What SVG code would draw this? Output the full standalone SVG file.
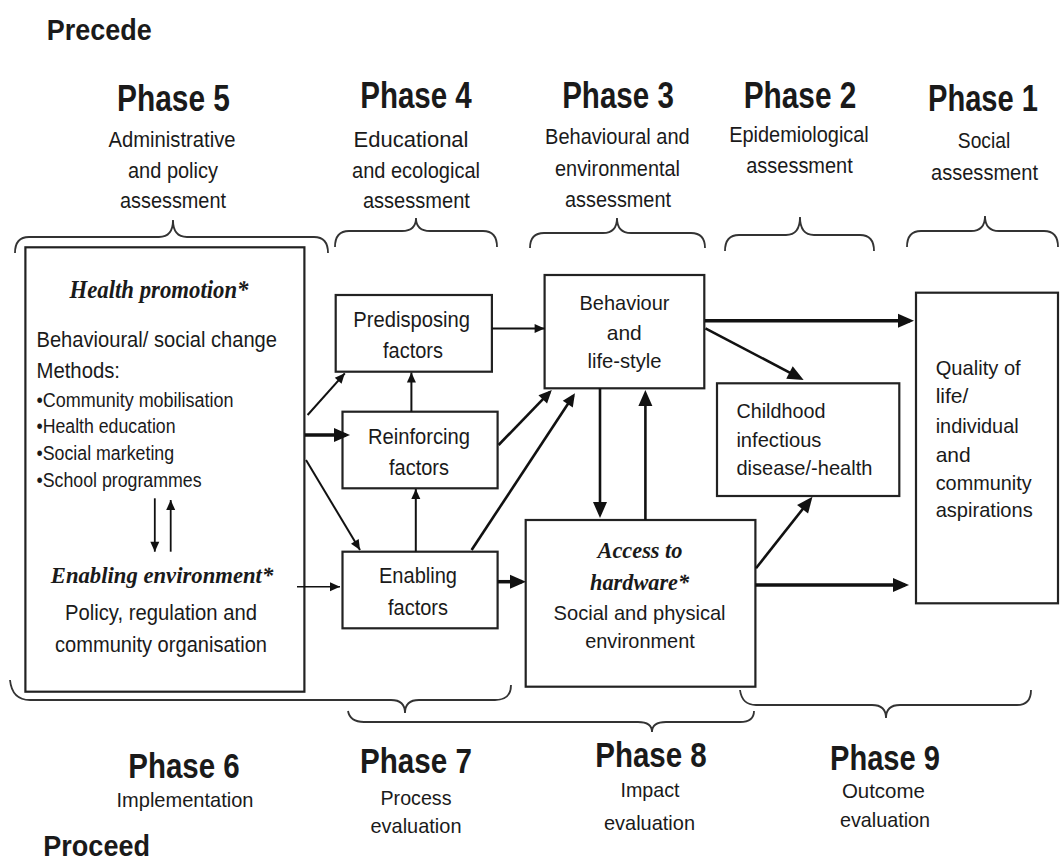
<svg xmlns="http://www.w3.org/2000/svg" width="1060" height="863" viewBox="0 0 1060 863">
<defs>
<style>
text{font-family:"Liberation Sans",Arial,sans-serif;fill:#1a1a1a}
.ph{font-size:36px;font-weight:bold;text-anchor:middle}
.phb{font-size:35px;font-weight:bold;text-anchor:middle}
.sub{font-size:22px;text-anchor:middle}
.pp{font-size:30px;font-weight:bold}
.t22{font-size:22px}
.t21{font-size:21px}
.t20{font-size:20px}
.c{text-anchor:middle}
.it{font-family:"Liberation Serif","Times New Roman",serif;font-weight:bold;font-style:italic}
.box{fill:#fff;stroke:#222;stroke-width:2.2}
.brace{fill:none;stroke:#333;stroke-width:1.8}
.a1{stroke:#111;stroke-width:2;fill:none;marker-end:url(#sm)}
.a2{stroke:#111;stroke-width:2.6;fill:none}
.a3{stroke:#111;stroke-width:3.5;fill:none;marker-end:url(#lg)}
</style>
<marker id="sm" markerUnits="userSpaceOnUse" markerWidth="11" markerHeight="9" refX="10" refY="4.5" orient="auto" overflow="visible"><path d="M0,0 L10,4.5 L0,9 z" fill="#111"/></marker>
<marker id="md" markerUnits="userSpaceOnUse" markerWidth="14" markerHeight="12" refX="10" refY="6" orient="auto" overflow="visible"><path d="M0,0 L13,6 L0,12 z" fill="#111"/></marker>
<marker id="lg" markerUnits="userSpaceOnUse" markerWidth="17" markerHeight="15" refX="12" refY="7" orient="auto" overflow="visible"><path d="M0,0 L16,7 L0,14 z" fill="#111"/></marker>
</defs>
<rect width="1060" height="863" fill="#fff"/>

<g id="headings">
<text class="pp" x="46.7" y="40" textLength="105" lengthAdjust="spacingAndGlyphs">Precede</text>
<text class="pp" x="43.3" y="856" textLength="106.7" lengthAdjust="spacingAndGlyphs">Proceed</text>
</g>

<g id="phase5">
<text class="ph" x="173.5" y="110.7" textLength="113" lengthAdjust="spacingAndGlyphs">Phase 5</text>
<text class="sub" x="172" y="146.7" textLength="127" lengthAdjust="spacingAndGlyphs">Administrative</text>
<text class="sub" x="173" y="177.5" textLength="90" lengthAdjust="spacingAndGlyphs">and policy</text>
<text class="sub" x="173" y="208.3" textLength="106" lengthAdjust="spacingAndGlyphs">assessment</text>
</g>
<g id="phase4">
<text class="ph" x="416" y="108.3" textLength="111.6" lengthAdjust="spacingAndGlyphs">Phase 4</text>
<text class="sub" x="411" y="147" textLength="115" lengthAdjust="spacingAndGlyphs">Educational</text>
<text class="sub" x="416" y="177.5" textLength="128" lengthAdjust="spacingAndGlyphs">and ecological</text>
<text class="sub" x="416.4" y="208" textLength="107" lengthAdjust="spacingAndGlyphs">assessment</text>
</g>
<g id="phase3">
<text class="ph" x="618" y="108.3" textLength="111.7" lengthAdjust="spacingAndGlyphs">Phase 3</text>
<text class="sub" x="617.4" y="144" textLength="144.6" lengthAdjust="spacingAndGlyphs">Behavioural and</text>
<text class="sub" x="617.5" y="175.7" textLength="125" lengthAdjust="spacingAndGlyphs">environmental</text>
<text class="sub" x="618" y="206.7" textLength="106" lengthAdjust="spacingAndGlyphs">assessment</text>
</g>
<g id="phase2">
<text class="ph" x="800" y="107.7" textLength="112.6" lengthAdjust="spacingAndGlyphs">Phase 2</text>
<text class="sub" x="799" y="141.7" textLength="139.6" lengthAdjust="spacingAndGlyphs">Epidemiological</text>
<text class="sub" x="799.5" y="173.3" textLength="106.5" lengthAdjust="spacingAndGlyphs">assessment</text>
</g>
<g id="phase1">
<text class="ph" x="983" y="110.7" textLength="110" lengthAdjust="spacingAndGlyphs">Phase 1</text>
<text class="sub" x="984" y="148.3" textLength="52.4" lengthAdjust="spacingAndGlyphs">Social</text>
<text class="sub" x="984.5" y="180" textLength="107" lengthAdjust="spacingAndGlyphs">assessment</text>
</g>

<g id="phase6">
<text class="phb" x="184" y="778.3" textLength="111.5" lengthAdjust="spacingAndGlyphs">Phase 6</text>
<text class="t21 c" x="185" y="806.7" textLength="137" lengthAdjust="spacingAndGlyphs">Implementation</text>
</g>
<g id="phase7">
<text class="phb" x="416" y="773.3" textLength="112" lengthAdjust="spacingAndGlyphs">Phase 7</text>
<text class="t21 c" x="416" y="805" textLength="71" lengthAdjust="spacingAndGlyphs">Process</text>
<text class="t21 c" x="416" y="833.3" textLength="91" lengthAdjust="spacingAndGlyphs">evaluation</text>
</g>
<g id="phase8">
<text class="phb" x="651" y="766.7" textLength="111.6" lengthAdjust="spacingAndGlyphs">Phase 8</text>
<text class="t21 c" x="650" y="796.7" textLength="59" lengthAdjust="spacingAndGlyphs">Impact</text>
<text class="t21 c" x="649.5" y="830" textLength="91" lengthAdjust="spacingAndGlyphs">evaluation</text>
</g>
<g id="phase9">
<text class="phb" x="885" y="770" textLength="110" lengthAdjust="spacingAndGlyphs">Phase 9</text>
<text class="t21 c" x="883.4" y="798.3" textLength="83" lengthAdjust="spacingAndGlyphs">Outcome</text>
<text class="t21 c" x="885" y="826.7" textLength="90" lengthAdjust="spacingAndGlyphs">evaluation</text>
</g>

<g id="braces">
<path class="brace" d="M15,253 Q15,237 29,237 L159,237 Q173,237 173,220 Q173,237 187,237 L314,237 Q328,237 328,253"/>
<path class="brace" d="M335,247 Q335,231 349,231 L402,231 Q416,231 416,218 Q416,231 430,231 L483,231 Q497,231 497,247"/>
<path class="brace" d="M530,248 Q530,233 544,233 L603,233 Q617,233 617,218 Q617,233 631,233 L691,233 Q705,233 705,248"/>
<path class="brace" d="M725,251 Q725,235 739,235 L786,235 Q800,235 800,217 Q800,235 814,235 L860,235 Q874,235 874,251"/>
<path class="brace" d="M907,247 Q907,231 921,231 L971,231 Q985,231 985,216 Q985,231 999,231 L1044,231 Q1058,231 1058,247"/>
<path class="brace" d="M10,680 Q12,700 30,700 L391,700 Q405,700 405,713 Q405,700 419,700 L495,700 Q511,700 511,685"/>
<path class="brace" d="M348,711 Q350,722 364,722 L638,722 Q652,722 652,732 Q652,722 666,722 L740,722 Q754,722 754,711"/>
<path class="brace" d="M740,690 Q742,705 756,705 L872,705 Q886,705 886,718 Q886,705 900,705 L1017,705 Q1031,705 1031,690"/>
</g>

<g id="interventions">
<rect class="box" x="25.4" y="247.3" width="279" height="444.4"/>
<text class="it c" style="font-size:26px" x="159" y="298.3" textLength="179" lengthAdjust="spacingAndGlyphs">Health promotion*</text>
<text class="t22" x="36.5" y="347.3" textLength="240.5" lengthAdjust="spacingAndGlyphs">Behavioural/ social change</text>
<text class="t22" x="36.5" y="378.3" textLength="83.5" lengthAdjust="spacingAndGlyphs">Methods:</text>
<text class="t20" x="36.5" y="406.7" textLength="197" lengthAdjust="spacingAndGlyphs">•Community mobilisation</text>
<text class="t20" x="36.5" y="433.3" textLength="139" lengthAdjust="spacingAndGlyphs">•Health education</text>
<text class="t20" x="36.5" y="460" textLength="137.6" lengthAdjust="spacingAndGlyphs">•Social marketing</text>
<text class="t20" x="36.5" y="486.7" textLength="165" lengthAdjust="spacingAndGlyphs">•School programmes</text>
<text class="it c" style="font-size:23px" x="162" y="583.3" textLength="222.5" lengthAdjust="spacingAndGlyphs">Enabling environment*</text>
<text class="t22 c" x="161" y="620" textLength="192" lengthAdjust="spacingAndGlyphs">Policy, regulation and</text>
<text class="t22 c" x="161" y="651.7" textLength="212" lengthAdjust="spacingAndGlyphs">community organisation</text>
</g>

<g id="predisposing">
<rect class="box" x="335.7" y="295" width="156.2" height="76.7"/>
<text class="t22 c" x="411.6" y="327.3" textLength="116.6" lengthAdjust="spacingAndGlyphs">Predisposing</text>
<text class="t22 c" x="413" y="358.3" textLength="60" lengthAdjust="spacingAndGlyphs">factors</text>
</g>
<g id="reinforcing">
<rect class="box" x="342.5" y="411.7" width="155.1" height="76.6"/>
<text class="t22 c" x="419" y="444" textLength="102" lengthAdjust="spacingAndGlyphs">Reinforcing</text>
<text class="t22 c" x="419" y="475" textLength="60" lengthAdjust="spacingAndGlyphs">factors</text>
</g>
<g id="enabling">
<rect class="box" x="342.5" y="551.7" width="155.1" height="76.6"/>
<text class="t22 c" x="418" y="583.3" textLength="78" lengthAdjust="spacingAndGlyphs">Enabling</text>
<text class="t22 c" x="418" y="615" textLength="60" lengthAdjust="spacingAndGlyphs">factors</text>
</g>
<g id="behaviour">
<rect class="box" x="544.6" y="275" width="159.7" height="113.3"/>
<text class="t21 c" x="624.5" y="310" textLength="90" lengthAdjust="spacingAndGlyphs">Behaviour</text>
<text class="t21 c" x="624.3" y="340">and</text>
<text class="t21 c" x="624.5" y="368.3" textLength="74" lengthAdjust="spacingAndGlyphs">life-style</text>
</g>
<g id="childhood">
<rect class="box" x="717" y="383.3" width="182.3" height="112.7"/>
<text class="t21" x="736.4" y="418.3" textLength="89" lengthAdjust="spacingAndGlyphs">Childhood</text>
<text class="t21" x="736.4" y="446.7" textLength="85" lengthAdjust="spacingAndGlyphs">infectious</text>
<text class="t21" x="736.4" y="475" textLength="136" lengthAdjust="spacingAndGlyphs">disease/-health</text>
</g>
<g id="quality">
<rect class="box" x="916" y="292.7" width="142" height="310.6"/>
<text class="t21" x="935.7" y="375" textLength="85" lengthAdjust="spacingAndGlyphs">Quality of</text>
<text class="t21" x="935.7" y="403.3">life/</text>
<text class="t21" x="935.7" y="433.3" textLength="83" lengthAdjust="spacingAndGlyphs">individual</text>
<text class="t21" x="935.7" y="461.7">and</text>
<text class="t21" x="935.7" y="490" textLength="96" lengthAdjust="spacingAndGlyphs">community</text>
<text class="t21" x="935.7" y="516.7" textLength="97" lengthAdjust="spacingAndGlyphs">aspirations</text>
</g>
<g id="access">
<rect class="box" x="525.7" y="520" width="229.7" height="166.7"/>
<text class="it c" style="font-size:23px" x="640" y="558.3" textLength="85" lengthAdjust="spacingAndGlyphs">Access to</text>
<text class="it c" style="font-size:23px" x="639.6" y="590" textLength="99" lengthAdjust="spacingAndGlyphs">hardware*</text>
<text class="t21 c" x="639.6" y="620" textLength="172" lengthAdjust="spacingAndGlyphs">Social and physical</text>
<text class="t21 c" x="640" y="648.3" textLength="109.6" lengthAdjust="spacingAndGlyphs">environment</text>
</g>

<g id="connectors">
<path class="a1" style="stroke-width:1.8" d="M154.8,498.3 L154.8,551.7"/>
<path class="a1" style="stroke-width:1.8" d="M170.7,551.7 L170.7,500"/>
<path class="a1" d="M307.6,415 L344.8,373.3"/>
<path class="a3" d="M305,435 L346,435"/>
<path class="a1" d="M306,460 L360,550"/>
<path class="a1" style="stroke-width:1.6" d="M297,586.7 L340,586.7"/>
<path class="a1" d="M411.4,411.7 L411.4,372.5"/>
<path class="a1" d="M415.8,551.7 L415.8,489"/>
<path class="a1" d="M491.9,328.5 L544.6,328.5"/>
<path class="a2" marker-end="url(#md)" d="M498.6,445 L549.7,392.2"/>
<path class="a2" marker-end="url(#md)" d="M471.6,550 L573.3,395.8"/>
<path class="a3" d="M497.6,581.7 L522,581.7"/>
<path class="a3" d="M705,320.7 L910,320.7"/>
<path class="a2" marker-end="url(#lg)" d="M705.4,328.3 L800.1,378.1"/>
<path class="a2" marker-end="url(#lg)" d="M756,568.3 L810,499.8"/>
<path class="a3" d="M755.4,585 L905,585"/>
<path class="a2" marker-end="url(#lg)" d="M600,388.3 L600,514"/>
<path class="a2" marker-end="url(#lg)" d="M645.4,520 L645.4,394"/>
</g>
</svg>
